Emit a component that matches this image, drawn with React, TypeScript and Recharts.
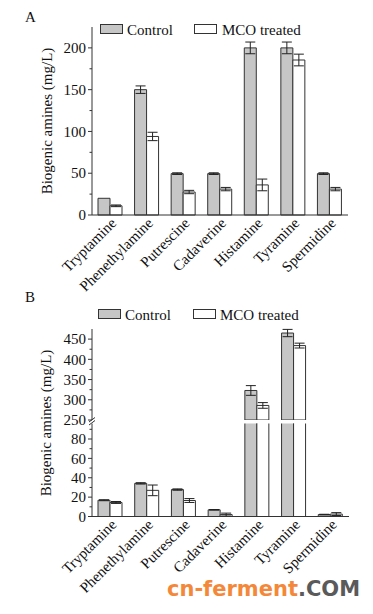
import React from 'react';
import { BarChart, Bar, XAxis, YAxis, ErrorBar, Legend } from 'recharts';

const categories = ['Tryptamine', 'Phenethylamine', 'Putrescine', 'Cadaverine', 'Histamine', 'Tyramine', 'Spermidine'];
const seriesNames = ['Control', 'MCO treated'];

const controlA = [20, 150, 49.5, 49.5, 200, 200, 49.5];
const controlAErr = [0, 4.5, 1, 1, 7, 7, 1];
const mcoA = [11, 94, 27.5, 31, 36, 185.5, 31];
const mcoAErr = [1, 5, 2, 2, 7, 7, 2];

const controlB = [16.8, 34.2, 27.8, 6.9, 323, 465, 2];
const controlBErr = [0.5, 0.7, 0.7, 0.3, 12, 9, 0.3];
const mcoB = [14.5, 27, 16.5, 2, 286, 434, 2.5];
const mcoBErr = [1, 5.5, 2, 1.5, 7, 6, 1.5];

const ticksA = [0, 25, 50, 75, 100, 125, 150, 175, 200];
const ticksBUpper = [250, 275, 300, 325, 350, 375, 400, 425, 450];
const ticksBLower = [0, 10, 20, 30, 40, 50, 60, 70, 80, 90];
const breakLow = 96;
const breakHigh = 250;

const FONT = '"Liberation Serif", "Times New Roman", serif';
const AXIS = '#333';
const TXT = '#111';
const GRAY = '#c6c6c6';

const dataA = categories.map((c, i) => ({
  name: c, control: controlA[i], controlErr: controlAErr[i], mco: mcoA[i], mcoErr: mcoAErr[i],
}));
const dataB = categories.map((c, i) => ({
  name: c, control: controlB[i], controlErr: controlBErr[i], mco: mcoB[i], mcoErr: mcoBErr[i],
}));
// upper segment of the broken axis only shows values that reach it
const dataBUpper = dataB.map((d) => ({
  name: d.name,
  control: d.control >= breakHigh ? d.control : null,
  controlErr: d.control >= breakHigh ? d.controlErr : null,
  mco: d.mco >= breakHigh ? d.mco : null,
  mcoErr: d.mco >= breakHigh ? d.mcoErr : null,
}));

const mkYTick = (majorStep: number) => (props: any) => {
  const { x, y, payload } = props;
  const v = payload.value;
  const major = Math.abs(v % majorStep) < 1e-6;
  return (
    <g>
      <line x1={x} x2={x - (major ? 4 : 2.5)} y1={y} y2={y} stroke={AXIS} strokeWidth={1} />
      {major && (
        <text x={x - 6} y={y} dy="0.35em" textAnchor="end" fontSize={15} fontFamily={FONT} fill={TXT}>
          {v}
        </text>
      )}
    </g>
  );
};

const XTick = (props: any) => {
  const { x, y, payload } = props;
  const tx = x + 7;
  const ty = y + 9;
  return (
    <text x={tx} y={ty} transform={`rotate(-45 ${tx} ${ty})`} textAnchor="end" fontSize={15} fontFamily={FONT} fill={TXT}>
      {payload.value}
    </text>
  );
};

const mkLegend = (pos: { r1: number; t1: number; r2: number; t2: number }) => () => (
  <div style={{ position: 'relative', height: 16, fontFamily: FONT, fontSize: 15, color: TXT, lineHeight: '16px' }}>
    <span style={{ position: 'absolute', left: pos.r1, top: 2.5, width: 21, height: 8, background: GRAY, border: `1px solid ${AXIS}` }} />
    <span style={{ position: 'absolute', left: pos.t1, top: 0, whiteSpace: 'nowrap' }}>{seriesNames[0]}</span>
    <span style={{ position: 'absolute', left: pos.r2, top: 2.5, width: 21, height: 8, background: '#fff', border: `1px solid ${AXIS}` }} />
    <span style={{ position: 'absolute', left: pos.t2, top: 0, whiteSpace: 'nowrap' }}>{seriesNames[1]}</span>
  </div>
);

const bars = () => [
  <Bar key="c" dataKey="control" name={seriesNames[0]} fill={GRAY} stroke={AXIS} strokeWidth={1} barSize={12} isAnimationActive={false}>
    <ErrorBar dataKey="controlErr" width={5} stroke="#222" strokeWidth={1} />
  </Bar>,
  <Bar key="m" dataKey="mco" name={seriesNames[1]} fill="#fff" stroke={AXIS} strokeWidth={1} barSize={12} isAnimationActive={false}>
    <ErrorBar dataKey="mcoErr" width={5} stroke="#222" strokeWidth={1} />
  </Bar>,
];

export default function App() {
  return (
    <div style={{ position: 'absolute', left: 0, top: 0, width: 373, height: 614, background: '#fff', overflow: 'hidden' }}>
      {/* Panel A */}
      <div style={{ position: 'absolute', left: 0, top: 0 }}>
        <BarChart width={373} height={300} data={dataA} barGap={0} margin={{ top: 27, right: 25, left: 0, bottom: 0 }}>
          <XAxis dataKey="name" height={85} interval={0} tickSize={0} tickMargin={0} tickLine={false} stroke={AXIS} tick={<XTick />} />
          <YAxis width={92} domain={[0, 225]} ticks={ticksA} interval={0} tickSize={0} tickMargin={0} tickLine={false} stroke={AXIS} tick={mkYTick(50)} />
          <Legend verticalAlign="middle" align="center" layout="horizontal" wrapperStyle={{ top: 21.5, left: 0, width: 373, height: 16 }} content={mkLegend({ r1: 100, t1: 127, r2: 194, t2: 222 })} />
          {bars()}
        </BarChart>
      </div>

      {/* Panel B upper */}
      <div style={{ position: 'absolute', left: 0, top: 300 }}>
        <BarChart width={373} height={130} data={dataBUpper} barGap={0} margin={{ top: 29, right: 24, left: 0, bottom: 10 }}>
          <XAxis dataKey="name" hide />
          <YAxis width={92} domain={[breakHigh, 475]} allowDataOverflow ticks={ticksBUpper} interval={0} tickSize={0} tickMargin={0} tickLine={false} stroke={AXIS} tick={mkYTick(50)} />
          <Legend verticalAlign="middle" align="center" layout="horizontal" wrapperStyle={{ top: 6.5, left: 0, width: 373, height: 16 }} content={mkLegend({ r1: 98, t1: 125, r2: 193, t2: 220 })} />
          {bars()}
        </BarChart>
      </div>

      {/* Panel B lower */}
      <div style={{ position: 'absolute', left: 0, top: 413 }}>
        <BarChart width={373} height={190} data={dataB} barGap={0} margin={{ top: 10.5, right: 24, left: 0, bottom: 0 }}>
          <XAxis dataKey="name" height={86.5} interval={0} tickSize={0} tickMargin={0} tickLine={false} stroke={AXIS} tick={<XTick />} />
          <YAxis width={92} domain={[0, breakLow]} allowDataOverflow ticks={ticksBLower} interval={0} tickSize={0} tickMargin={0} tickLine={false} stroke={AXIS} tick={mkYTick(20)} />
          {bars()}
        </BarChart>
      </div>

      {/* Overlay texts */}
      <svg width={373} height={614} style={{ position: 'absolute', left: 0, top: 0, pointerEvents: 'none' }}>
        <text x={25} y={21.5} fontSize={15} fontFamily={FONT} fill={TXT}>A</text>
        <text x={25} y={302} fontSize={15} fontFamily={FONT} fill={TXT}>B</text>
        <text transform="translate(52,121) rotate(-90)" textAnchor="middle" fontSize={15} fontFamily={FONT} fill={TXT}>Biogenic amines (mg/L)</text>
        <text transform="translate(51,423) rotate(-90)" textAnchor="middle" fontSize={15} fontFamily={FONT} fill={TXT}>Biogenic amines (mg/L)</text>
        <line x1={89} y1={422} x2={95} y2={417.5} stroke={AXIS} strokeWidth={1} />
        <line x1={89} y1={425} x2={95} y2={420.5} stroke={AXIS} strokeWidth={1} />
      </svg>

      {/* Watermark */}
      <div style={{ position: 'absolute', left: 167, top: 576, fontFamily: '"DejaVu Sans", sans-serif', fontWeight: 'bold', fontSize: 21, whiteSpace: 'nowrap', lineHeight: '26px' }}>
        <span style={{ color: '#f4883a' }}>cn-ferment</span>
        <span style={{ color: '#5a5a5a' }}>.COM</span>
      </div>
    </div>
  );
}
